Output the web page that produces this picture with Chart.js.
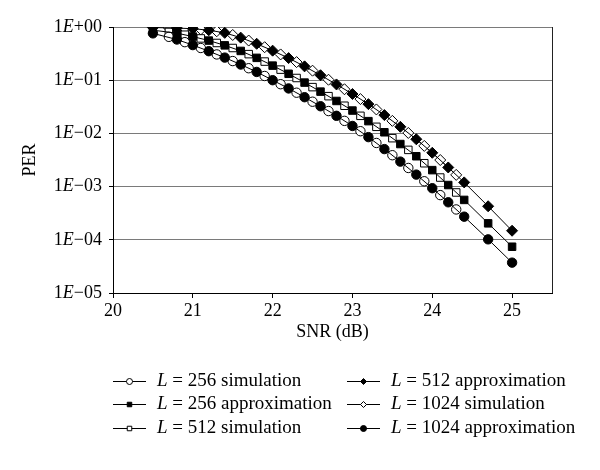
<!DOCTYPE html>
<html>
<head>
<title>PER vs SNR</title>
<style type="text/css">
	body{ margin:0; background:#fff; }
</style>
</head>
<body>
<canvas id="mycanvas" width="600" height="470"></canvas>
<script type="text/javascript" src="https://cdn.jsdelivr.net/npm/chart.js@4.4.1/dist/chart.umd.min.js"></script>
<script type="text/javascript">

// SNR (dB) of the simulated points and of the approximation points
var snrSim = [20.7, 20.9, 21.1, 21.3, 21.5, 21.7, 21.9, 22.1, 22.3, 22.5, 22.7, 22.9, 23.1, 23.3,
	23.5, 23.7, 23.9, 24.1, 24.3];
var snrApprox = [20.5, 20.8, 21.0, 21.2, 21.4, 21.6, 21.8, 22.0, 22.2, 22.4, 22.6, 22.8, 23.0, 23.2,
	23.4, 23.6, 23.8, 24.0, 24.2, 24.4, 24.7, 25.0];

var yTicks = [1e-5, 1e-4, 1e-3, 1e-2, 1e-1, 1];
var yTickText = ['\u221205', '\u221204', '\u221203', '\u221202', '\u221201', '+00'];
var xTicks = [20, 21, 22, 23, 24, 25];

// PER
var per256Sim = [0.653, 0.519, 0.403, 0.305, 0.229, 0.168, 0.120, 0.0841, 0.0582, 0.0394, 0.0263,
	0.0172, 0.0110, 0.00661, 0.00389, 0.00224, 0.00126, 0.000692, 0.000372];
var per256Approx = [0.871, 0.767, 0.661, 0.556, 0.452, 0.355, 0.263, 0.188, 0.132, 0.0902, 0.0610,
	0.0407, 0.0269, 0.0170, 0.0105, 0.00631, 0.00372, 0.00204, 0.00107, 0.000562, 0.000204, 0.0000741];
var per512Sim = [0.813, 0.716, 0.610, 0.501, 0.403, 0.309, 0.224, 0.158, 0.110, 0.0741, 0.0501,
	0.0331, 0.0214, 0.0133, 0.00813, 0.00490, 0.00275, 0.00148, 0.000776];
var per512Approx = [0.977, 0.955, 0.929, 0.871, 0.776, 0.631, 0.484, 0.359, 0.260, 0.182, 0.124,
	0.0832, 0.0550, 0.0355, 0.0221, 0.0133, 0.00776, 0.00432, 0.00229, 0.00120, 0.000427, 0.000148];
var per1024Sim = [0.966, 0.944, 0.902, 0.832, 0.708, 0.556, 0.417, 0.305, 0.219, 0.151, 0.102,
	0.0676, 0.0442, 0.0282, 0.0172, 0.0102, 0.00582, 0.00316, 0.00166];
var per1024Approx = [0.759, 0.582, 0.457, 0.351, 0.266, 0.197, 0.143, 0.100, 0.0700, 0.0479, 0.0324,
	0.0214, 0.0138, 0.00851, 0.00507, 0.00295, 0.00168, 0.000933, 0.000507, 0.000272, 0.000102, 0.0000372];

var FONT = "'Liberation Serif', 'Times New Roman', serif";

function pts(xs, ys){
	return xs.map(function(x, i){ return {x: x, y: ys[i]}; });
}

function series(label, xs, ys, style, open, r){
	return {
		label: label,
		data: pts(xs, ys),
		borderColor: '#000',
		borderWidth: 1,
		pointStyle: style,
		pointRadius: r,
		pointBorderWidth: 1,
		pointBorderColor: '#000',
		pointBackgroundColor: open ? '#fff' : '#000',
		legendRadius: style == 'rect' ? 3.2 : 3,
		fill: false
	};
}

var datasets = [
	series('L = 256 approximation', snrApprox, per256Approx, 'rect', false, 5.3),
	series('L = 512 approximation', snrApprox, per512Approx, 'rectRot', false, 5.5),
	series('L = 1024 approximation', snrApprox, per1024Approx, 'circle', false, 4.7),
	series('L = 256 simulation', snrSim, per256Sim, 'circle', true, 4.7),
	series('L = 512 simulation', snrSim, per512Sim, 'rect', true, 5.3),
	series('L = 1024 simulation', snrSim, per1024Sim, 'rectRot', true, 5.5)
];

// legend columns, as in the figure
var legendOrder = [
	['L = 256 simulation', 'L = 256 approximation', 'L = 512 simulation'],
	['L = 512 approximation', 'L = 1024 simulation', 'L = 1024 approximation']
];

var decoPlugin = {
	id: 'deco',
	afterDraw: function(chart){
		var ctx = chart.ctx;
		var area = chart.chartArea;
		var ys = chart.scales.y;
		ctx.save();
		// right frame line
		ctx.strokeStyle = '#222';
		ctx.lineWidth = 1;
		ctx.beginPath();
		ctx.moveTo(Math.round(area.right) + 0.5, area.top);
		ctx.lineTo(Math.round(area.right) + 0.5, area.bottom);
		ctx.stroke();

		// y tick labels with italic E
		ctx.fillStyle = '#000';
		ctx.textBaseline = 'middle';
		ctx.textAlign = 'left';
		yTicks.forEach(function(v, i){
			var y = ys.getPixelForValue(v);
			var rest = yTickText[i];
			ctx.font = "18px " + FONT;
			var w1 = ctx.measureText('1').width, w3 = ctx.measureText(rest).width;
			ctx.font = "italic 18px " + FONT;
			var w2 = ctx.measureText('E').width;
			var x = area.left - 11 - (w1 + w2 + w3);
			ctx.font = "18px " + FONT;
			ctx.fillText('1', x, y);
			ctx.font = "italic 18px " + FONT;
			ctx.fillText('E', x + w1, y);
			ctx.font = "18px " + FONT;
			ctx.fillText(rest, x + w1 + w2, y);
		});

		// legend
		var colLine = [113, 347];
		var rowY = [381, 404, 428];
		legendOrder.forEach(function(col, c){
			col.forEach(function(label, r){
				var ds = chart.data.datasets.find(function(d){ return d.label == label; });
				var x0 = colLine[c], y = rowY[r];
				ctx.strokeStyle = '#000';
				ctx.lineWidth = 1;
				ctx.beginPath();
				ctx.moveTo(x0, y + 0.5);
				ctx.lineTo(x0 + 33, y + 0.5);
				ctx.stroke();
				ctx.fillStyle = ds.pointBackgroundColor;
				ctx.strokeStyle = '#000';
				Chart.helpers.drawPoint(ctx, {pointStyle: ds.pointStyle, radius: ds.legendRadius, borderWidth: 1, rotation: 0}, x0 + 16.5, y + 0.5);
				ctx.fillStyle = '#000';
				ctx.font = "italic 19px " + FONT;
				ctx.fillText('L', x0 + 44, y);
				var wl = ctx.measureText('L').width;
				ctx.font = "19px " + FONT;
				ctx.fillText(label.substring(1), x0 + 44 + wl, y);
			});
		});
		ctx.restore();
	}
};

var ctx = document.getElementById('mycanvas');
var chart = new Chart(ctx, {
	type: 'line',
	data: { datasets: datasets },
	options: {
		responsive: false,
		animation: false,
		layout: { padding: { left: 15, right: 48, top: 27, bottom: 123 } },
		plugins: { legend: { display: false }, tooltip: { enabled: false } },
		scales: {
			x: {
				type: 'linear',
				min: 20,
				max: 25.5,
				afterBuildTicks: function(s){ s.ticks = xTicks.map(function(v){ return {value: v}; }); },
				afterFit: function(s){ s.height = 54; },
				grid: { drawOnChartArea: false, drawTicks: true, tickLength: 5, color: '#000' },
				border: { color: '#000' },
				ticks: { color: '#000', padding: 2, font: { family: FONT, size: 18 }, maxRotation: 0 },
				title: { display: true, text: 'SNR (dB)', color: '#000', font: { family: FONT, size: 18 } }
			},
			y: {
				type: 'logarithmic',
				min: 1e-5,
				max: 1,
				afterBuildTicks: function(s){ s.ticks = yTicks.map(function(v){ return {value: v}; }); },
				afterFit: function(s){ s.width = 113 - 15; },
				grid: { color: '#7a7a7a', tickColor: '#000', tickLength: 4 },
				border: { color: '#000' },
				ticks: { display: false },
				title: { display: true, text: 'PER', color: '#000', font: { family: FONT, size: 18 } }
			}
		}
	},
	plugins: [decoPlugin]
});
</script>
</body>
</html>
